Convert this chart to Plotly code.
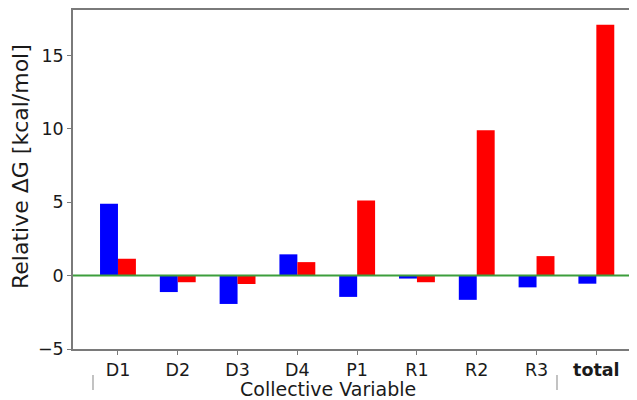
import plotly.graph_objects as go

categories = ["D1", "D2", "D3", "D4", "P1", "R1", "R2", "R3", "total"]
tick_labels = ["D1", "D2", "D3", "D4", "P1", "R1", "R2", "R3", "<b>total</b>"]
blue_values = [4.9, -1.12, -1.93, 1.45, -1.45, -0.2, -1.65, -0.8, -0.55]
red_values = [1.15, -0.45, -0.57, 0.92, 5.12, -0.45, 9.9, 1.33, 17.1]
y_ticks = [-5, 0, 5, 10, 15]

FONT = "DejaVu Sans"
TXT = "#1a1a1a"
AX = "#7a7a7a"

# page body has an 8px margin; the figure is sized to fill the rest of the window
OFF = 8
W, H = 637 - OFF, 400 - OFF
L, T, B = 73 - OFF, 10 - OFF, 51
PW, PH = W - L, H - T - B  # plot area size


def px_x(p):  # window pixel -> paper x
    return (p - OFF - L) / PW


def px_y(p):  # window pixel -> paper y
    return (H - B - (p - OFF)) / PH


x_idx = list(range(len(categories)))

fig = go.Figure()
fig.add_trace(go.Bar(x=x_idx, y=blue_values, marker=dict(color="#0000ff", line=dict(width=0)), name="blue"))
fig.add_trace(go.Bar(x=x_idx, y=red_values, marker=dict(color="#ff0000", line=dict(width=0)), name="red"))

fig.add_shape(type="line", xref="paper", yref="y", x0=0, x1=1, y0=0, y1=0,
              line=dict(color="#3c9e3c", width=2))

# stray vertical marks under the axis
for p in [93, 557]:
    fig.add_shape(type="line", xref="paper", yref="paper", x0=px_x(p), x1=px_x(p),
                  y0=px_y(375), y1=px_y(390), line=dict(color="#9a9a9a", width=1.2))

fig.update_layout(
    width=W, height=H,
    margin=dict(l=L, r=0, t=T, b=B, autoexpand=False),
    plot_bgcolor="white", paper_bgcolor="white",
    barmode="group", bargap=0.4, bargroupgap=0,
    showlegend=False,
    font=dict(family=FONT, color=TXT, size=17),
)
fig.update_xaxes(
    automargin=False,
    range=[-0.752, 8.68], tickmode="array", tickvals=x_idx, ticktext=tick_labels,
    showline=True, linecolor=AX, linewidth=1.5, mirror=True,
    ticks="outside", ticklen=4, tickcolor=AX, tickwidth=1.2,
    showgrid=False, zeroline=False, tickfont=dict(size=17.5, family=FONT, color=TXT),
)
fig.update_yaxes(
    automargin=False,
    range=[-5, 18.1], tickmode="array", tickvals=y_ticks, ticktext=["\u22125", "0", "5", "10", "15"],
    showline=True, linecolor=AX, linewidth=1.5, mirror=False,
    ticks="outside", ticklen=4, tickcolor=AX, tickwidth=1.2,
    showgrid=False, zeroline=False, tickfont=dict(size=17.5, family=FONT, color=TXT),
)

fig.add_annotation(text="Collective Variable", xref="paper", yref="paper",
                   x=px_x(328), y=px_y(389), xanchor="center", yanchor="middle",
                   showarrow=False, font=dict(size=19, family=FONT, color=TXT))
fig.add_annotation(text="Relative \u0394G [kcal/mol]", xref="paper", yref="paper",
                   x=px_x(20), y=px_y(167), xanchor="center", yanchor="middle",
                   textangle=-90, showarrow=False, font=dict(size=22, family=FONT, color=TXT))

fig.write_html("out.html")
